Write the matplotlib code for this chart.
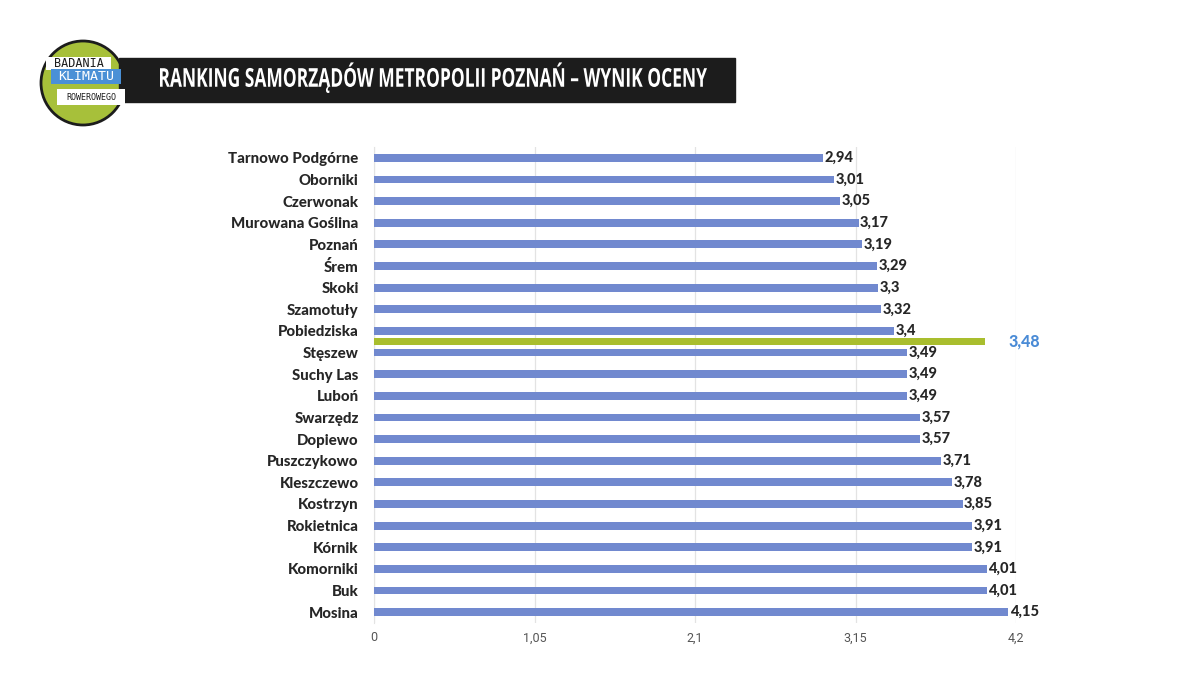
import matplotlib
matplotlib.use("Agg")
import matplotlib.pyplot as plt
from matplotlib.patches import Circle, Rectangle, PathPatch
from matplotlib.textpath import TextPath
from matplotlib.font_manager import FontProperties
from matplotlib.transforms import Affine2D

# data
gminy = ["Tarnowo Podgórne", "Oborniki", "Czerwonak", "Murowana Goślina", "Poznań",
         "Śrem", "Skoki", "Szamotuły", "Pobiedziska", "Stęszew", "Suchy Las", "Luboń",
         "Swarzędz", "Dopiewo", "Puszczykowo", "Kleszczewo", "Kostrzyn", "Rokietnica",
         "Kórnik", "Komorniki", "Buk", "Mosina"]
wyniki = [2.94, 3.01, 3.05, 3.17, 3.19, 3.29, 3.3, 3.32, 3.4, 3.49, 3.49, 3.49,
          3.57, 3.57, 3.71, 3.78, 3.85, 3.91, 3.91, 4.01, 4.01, 4.15]
srednia = 3.48
srednia_pos = 8.5      # between Pobiedziska and Stęszew
srednia_len = 4.0      # length of the green marker bar
ticks = [0, 1.05, 2.1, 3.15, 4.2]
tick_labels = ["0", "1,05", "2,1", "3,15", "4,2"]
tytul = "RANKING SAMORZĄDÓW METROPOLII POZNAŃ – WYNIK OCENY"

BLUE = "#7189cf"
GREEN = "#a9be2e"
DARK = "#262626"

def fmt(v):
    return f"{v:g}".replace(".", ",")

fig = plt.figure(figsize=(12, 6.75), dpi=100)
ax = fig.add_axes([374 / 1200, 1 - 623 / 675, 642 / 1200, 476 / 675])

y = list(range(len(gminy)))
ax.barh(y, wyniki, height=0.36, color=BLUE, zorder=3)
ax.barh([srednia_pos], [srednia_len], height=0.3, color=GREEN, zorder=3)

for yi, v in zip(y, wyniki):
    ax.text(v + 0.01, yi, fmt(v), va="center", ha="left", fontsize=10.5,
            fontweight=900, color=DARK, family="Lato", zorder=4)
ax.text(srednia_len + 0.15, srednia_pos, fmt(srednia), va="center", ha="left",
        fontsize=11.5, fontweight=900, color="#4a8bd6", family="Lato", zorder=4)

ax.set_xlim(0, 4.2)
ax.set_ylim(len(gminy) - 0.5, -0.5)
ax.set_xticks(ticks)
ax.set_xticklabels(tick_labels, color="#555555", fontsize=9, family="Roboto")
ax.set_yticks(y)
ax.set_yticklabels(gminy, fontsize=10.8, fontweight=900, color=DARK, family="Lato")
ax.tick_params(axis="both", length=0)
ax.tick_params(axis="y", pad=11)
ax.tick_params(axis="x", pad=6)
ax.grid(axis="x", color="#e3e3e3", linewidth=0.9, zorder=0)
for s in ["top", "right", "bottom"]:
    ax.spines[s].set_visible(False)
ax.spines["left"].set_color("#e3e3e3")

# title bar and logo (pixel coords, y measured from the top)
H = 675
over = fig.add_axes([0, 0, 1, 1], zorder=5)
over.set_xlim(0, 1200)
over.set_ylim(0, H)
over.axis("off")

over.add_patch(Circle((83, H - 83), 42, facecolor="#a7c03a", edgecolor="#1c1c1c", linewidth=2))
over.add_patch(Rectangle((119, H - 102), 616, 44, color="#1c1c1c"))

# condensed title: text path squeezed to the width of the reference
tp = TextPath((0, 0), tytul, size=26, prop=FontProperties(family="Open Sans", weight="bold"))
bb = tp.get_extents()
sx = 547 / bb.width
tr = Affine2D().translate(-bb.x0, -bb.y0).scale(sx, 1.0).translate(160, H - 93)
over.add_patch(PathPatch(tr.transform_path(tp), facecolor="white", edgecolor="none"))

over.add_patch(Rectangle((46, H - 70), 65, 13, facecolor="white", edgecolor="none"))
over.text(78.5, H - 63.5, "BADANIA", fontsize=8.5, family="DejaVu Sans Mono", ha="center",
          va="center", color="#1c1c1c")
over.add_patch(Rectangle((51, H - 84), 70, 15, facecolor="#4a90d6", edgecolor="none"))
over.text(86, H - 76.5, "KLIMATU", fontsize=9.5, family="DejaVu Sans Mono", ha="center",
          va="center", color="white")
over.add_patch(Rectangle((57, H - 105), 68, 16, facecolor="white", edgecolor="none"))
over.text(91, H - 97, "ROWEROWEGO", fontsize=6, family="DejaVu Sans Mono", ha="center",
          va="center", color="#1c1c1c")

fig.savefig("out.png", dpi=100)
